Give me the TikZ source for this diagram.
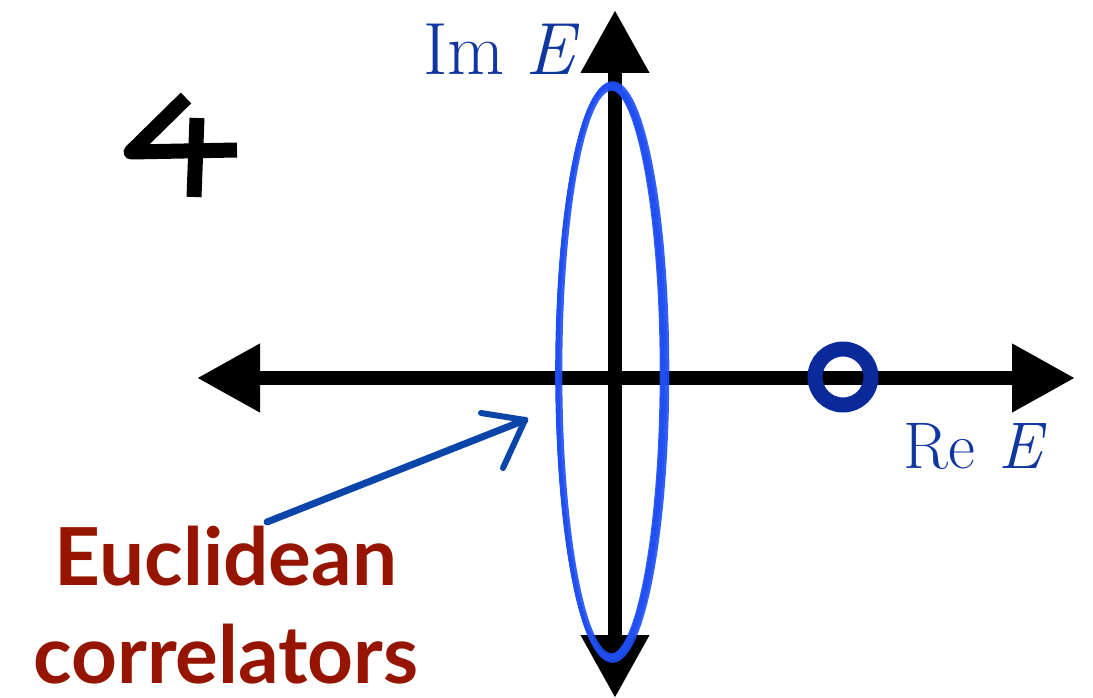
\documentclass[tikz,border=0pt]{standalone}
\usepackage{fontspec}
\newfontfamily\labelfont{Lato}
\usetikzlibrary{arrows.meta}
\definecolor{contourblue}{HTML}{1F4EF2}
\definecolor{poleblue}{HTML}{0A2A9C}
\definecolor{axislabel}{HTML}{1036A0}
\definecolor{pointerblue}{HTML}{0A46AA}
\definecolor{labelred}{HTML}{961500}

\begin{document}
\begin{tikzpicture}[
  x=1pt,
  y=-1pt,
  line join=round,
  axis/.style={draw=black,line width=14pt,
    {Triangle[length=63pt,width=65pt]}-{Triangle[length=63pt,width=65pt]}},
  contour/.style={draw=contourblue,line width=3.6pt,opacity=0.9},
  pole/.style={draw=poleblue,line width=15pt},
  pointer/.style={draw=pointerblue,line width=7pt,line cap=round},
  digit/.style={draw=black,line width=15pt,line cap=butt},
  axislbl/.style={text=axislabel,inner sep=0pt,anchor=base west}
]
  \useasboundingbox (0,0) rectangle (1093,698);

  % Ends of the two axes and the centre of the contour.
  \coordinate (Wend) at (197,378);
  \coordinate (Eend) at (1075,378);
  \coordinate (Nend) at (615,10);
  \coordinate (Send) at (615,698);
  \coordinate (Ctr) at (611,372);
  \coordinate (Pole) at (843,377);

  % Real and imaginary axes.
  \draw[axis] (Wend) -- (Eend);
  \draw[axis] (Send) -- (Nend);

  % Hand-drawn closed contour along the imaginary axis.
  \foreach \dx/\rx/\ry in {0/54/287,-1.5/52/285,1.5/55/289,0.5/51/283,-0.5/53/286} {
    \draw[contour] ([xshift=\dx pt]Ctr) ellipse[x radius=\rx,y radius=\ry];
  }

  % Pole on the positive real axis.
  \draw[pole] (Pole) circle[radius=28];

  \node[axislbl,font=\fontsize{74}{80}\selectfont] (imlbl) at (423,75) {Im\hspace{0.28em}\textit{E}};
  \node[axislbl,font=\fontsize{66}{72}\selectfont] (relbl) at (903,468) {Re\hspace{0.36em}\textit{E}};

  % The figure number, drawn by hand.
  \draw[digit] (186,98) -- (131,152) -- (237,150);
  \draw[digit] (197,118) -- (194,197);

  % Label with its pointer towards the contour.
  \node[text=labelred,align=center,anchor=base,inner sep=0pt,
    font=\labelfont\bfseries\fontsize{80}{98}\selectfont] (eucl) at (226,683)
    {Euclidean\\correlators};
  \coordinate (ptail) at (267,522);
  \coordinate (phead) at (525,420);
  \draw[pointer] (ptail) -- (phead);
  \draw[pointer,line width=6pt] (481,413) -- (phead) -- (503,468);
\end{tikzpicture}
\end{document}
